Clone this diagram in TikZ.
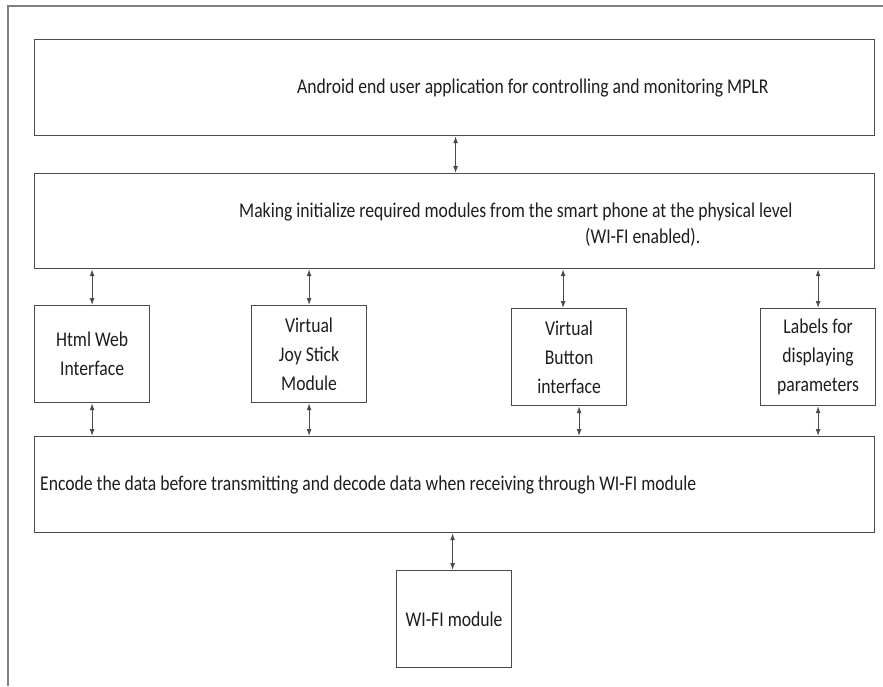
\documentclass[tikz,border=0pt]{standalone}
\usepackage{fontspec}
\setmainfont[FakeStretch=0.84]{Carlito}
\usetikzlibrary{arrows.meta}
\definecolor{linegray}{HTML}{4A4A4A}
\definecolor{framegray}{HTML}{808080}
\definecolor{textgray}{HTML}{1E1E1E}
\begin{document}
\begin{tikzpicture}[x=1pt,y=-1pt,
  box/.style={draw=linegray, line width=1.2pt, rectangle, inner sep=0pt, anchor=north west},
  wide/.style={box, minimum width=840pt},
  small/.style={box, minimum width=115pt, minimum height=97pt, align=center, text=textgray,
    font=\fontsize{21}{29}\selectfont},
  lbl/.style={inner sep=0pt, text=textgray, font=\fontsize{21}{29}\selectfont, anchor=west},
  arr/.style={draw=linegray, line width=1.1pt, {Latex[length=7pt,width=5pt]}-{Latex[length=7pt,width=5pt]}}
]
\useasboundingbox (0,0) rectangle (883,686);
\fill[white] (0,0) rectangle (883,686);
% frame
\draw[framegray, line width=1.2pt] (8,686) -- (8,6) -- (883,6);
% wide boxes
\node[wide, minimum height=96pt] (app) at (34,39) {};
\node[lbl] (apptxt) at (297,88) {Android end user application for controlling and monitoring MPLR};
\node[wide, minimum height=95pt] (init) at (34,173) {};
\node[lbl] (inittxt1) at (239,212) {Making initialize required modules from the smart phone at the physical level};
\node[lbl] (inittxt2) at (585,237) {(WI-FI enabled).};
% small boxes
\node[small] (html) at (34,305) {Html Web\\Interface};
\node[small] (joy) at (251,305) {Virtual\\Joy Stick\\Module};
\node[small] (button) at (511,308) {Virtual\\Button\\interface};
\node[small] (labels) at (760,308) {Labels for\\displaying\\parameters};
% encode box
\node[wide, minimum height=96pt] (enc) at (34,436) {};
\node[lbl] (enctxt) at (40,485) {Encode the data before transmitting and decode data when receiving through WI-FI module};
% wifi
\node[small] (wifi) at (396,570) {WI-FI module};
% connectors
\coordinate (c1) at ([xshift=1pt]app.south);
\draw[arr] (c1) -- (c1 |- init.north);
\draw[arr] (init.south -| html.north) -- (html.north);
\draw[arr] (init.south -| joy.north) -- (joy.north);
\coordinate (bt) at ([xshift=-6pt]button.north);
\draw[arr] (init.south -| bt) -- (bt);
\draw[arr] (init.south -| labels.north) -- (labels.north);
\draw[arr] (html.south) -- (html.south |- enc.north);
\draw[arr] (joy.south) -- (joy.south |- enc.north);
\coordinate (bb) at ([xshift=10pt]button.south);
\draw[arr] (bb) -- (bb |- enc.north);
\draw[arr] (labels.south) -- (labels.south |- enc.north);
\coordinate (wt) at ([xshift=-1.5pt]wifi.north);
\draw[arr] (wt |- enc.south) -- (wt);
\end{tikzpicture}
\end{document}
